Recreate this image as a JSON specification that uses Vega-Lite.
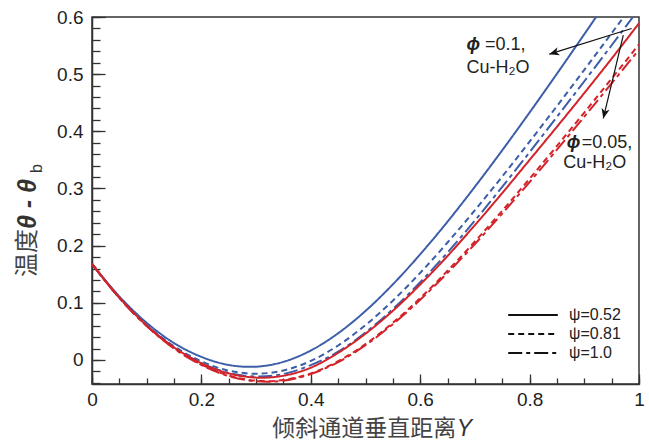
{
  "$schema": "https://vega.github.io/schema/vega-lite/v6.json",
  "width": 547,
  "height": 367,
  "autosize": {"type": "none"},
  "padding": {"left": 92, "top": 17, "right": 10, "bottom": 58},
  "background": "white",
  "config": {
    "view": {"stroke": "#333", "strokeWidth": 1.5},
    "axis": {"labelFont": "Liberation Sans", "labelFontSize": 19, "labelColor": "#222", "tickColor": "#333", "tickWidth": 1.3, "domainColor": "#333", "domainWidth": 1.5, "grid": false, "labelFlush": false, "labelOverlap": false, "format": "~g"}
  },
  "datasets": {
    "curves": [
      {"Y": 0, "T": 0.168, "phi": "0.1", "psi": "0.52"},
      {"Y": 0.05, "T": 0.1111, "phi": "0.1", "psi": "0.52"},
      {"Y": 0.1, "T": 0.065, "phi": "0.1", "psi": "0.52"},
      {"Y": 0.15, "T": 0.0296, "phi": "0.1", "psi": "0.52"},
      {"Y": 0.2, "T": 0.0055, "phi": "0.1", "psi": "0.52"},
      {"Y": 0.25, "T": -0.0087, "phi": "0.1", "psi": "0.52"},
      {"Y": 0.289, "T": -0.012, "phi": "0.1", "psi": "0.52"},
      {"Y": 0.35, "T": -0.0032, "phi": "0.1", "psi": "0.52"},
      {"Y": 0.4, "T": 0.0166, "phi": "0.1", "psi": "0.52"},
      {"Y": 0.45, "T": 0.0468, "phi": "0.1", "psi": "0.52"},
      {"Y": 0.5, "T": 0.0858, "phi": "0.1", "psi": "0.52"},
      {"Y": 0.55, "T": 0.1323, "phi": "0.1", "psi": "0.52"},
      {"Y": 0.6, "T": 0.1848, "phi": "0.1", "psi": "0.52"},
      {"Y": 0.65, "T": 0.242, "phi": "0.1", "psi": "0.52"},
      {"Y": 0.7, "T": 0.3031, "phi": "0.1", "psi": "0.52"},
      {"Y": 0.75, "T": 0.3669, "phi": "0.1", "psi": "0.52"},
      {"Y": 0.8, "T": 0.433, "phi": "0.1", "psi": "0.52"},
      {"Y": 0.85, "T": 0.5008, "phi": "0.1", "psi": "0.52"},
      {"Y": 0.9, "T": 0.5699, "phi": "0.1", "psi": "0.52"},
      {"Y": 0.95, "T": 0.64, "phi": "0.1", "psi": "0.52"},
      {"Y": 1.0, "T": 0.7109, "phi": "0.1", "psi": "0.52"},

      {"Y": 0, "T": 0.168, "phi": "0.1", "psi": "0.81"},
      {"Y": 0.05, "T": 0.1093, "phi": "0.1", "psi": "0.81"},
      {"Y": 0.1, "T": 0.0613, "phi": "0.1", "psi": "0.81"},
      {"Y": 0.15, "T": 0.024, "phi": "0.1", "psi": "0.81"},
      {"Y": 0.2, "T": -0.0024, "phi": "0.1", "psi": "0.81"},
      {"Y": 0.25, "T": -0.0187, "phi": "0.1", "psi": "0.81"},
      {"Y": 0.3, "T": -0.024, "phi": "0.1", "psi": "0.81"},
      {"Y": 0.35, "T": -0.0183, "phi": "0.1", "psi": "0.81"},
      {"Y": 0.4, "T": -0.0016, "phi": "0.1", "psi": "0.81"},
      {"Y": 0.45, "T": 0.0254, "phi": "0.1", "psi": "0.81"},
      {"Y": 0.5, "T": 0.061, "phi": "0.1", "psi": "0.81"},
      {"Y": 0.55, "T": 0.1038, "phi": "0.1", "psi": "0.81"},
      {"Y": 0.6, "T": 0.1524, "phi": "0.1", "psi": "0.81"},
      {"Y": 0.65, "T": 0.2055, "phi": "0.1", "psi": "0.81"},
      {"Y": 0.7, "T": 0.262, "phi": "0.1", "psi": "0.81"},
      {"Y": 0.75, "T": 0.321, "phi": "0.1", "psi": "0.81"},
      {"Y": 0.8, "T": 0.3819, "phi": "0.1", "psi": "0.81"},
      {"Y": 0.85, "T": 0.4442, "phi": "0.1", "psi": "0.81"},
      {"Y": 0.9, "T": 0.5076, "phi": "0.1", "psi": "0.81"},
      {"Y": 0.95, "T": 0.5717, "phi": "0.1", "psi": "0.81"},
      {"Y": 1.0, "T": 0.6363, "phi": "0.1", "psi": "0.81"},

      {"Y": 0, "T": 0.168, "phi": "0.1", "psi": "1.0"},
      {"Y": 0.05, "T": 0.1087, "phi": "0.1", "psi": "1.0"},
      {"Y": 0.1, "T": 0.06, "phi": "0.1", "psi": "1.0"},
      {"Y": 0.15, "T": 0.0219, "phi": "0.1", "psi": "1.0"},
      {"Y": 0.2, "T": -0.0054, "phi": "0.1", "psi": "1.0"},
      {"Y": 0.25, "T": -0.0226, "phi": "0.1", "psi": "1.0"},
      {"Y": 0.305, "T": -0.029, "phi": "0.1", "psi": "1.0"},
      {"Y": 0.35, "T": -0.0245, "phi": "0.1", "psi": "1.0"},
      {"Y": 0.4, "T": -0.009, "phi": "0.1", "psi": "1.0"},
      {"Y": 0.45, "T": 0.0145, "phi": "0.1", "psi": "1.0"},
      {"Y": 0.5, "T": 0.048, "phi": "0.1", "psi": "1.0"},
      {"Y": 0.55, "T": 0.089, "phi": "0.1", "psi": "1.0"},
      {"Y": 0.6, "T": 0.136, "phi": "0.1", "psi": "1.0"},
      {"Y": 0.65, "T": 0.188, "phi": "0.1", "psi": "1.0"},
      {"Y": 0.7, "T": 0.244, "phi": "0.1", "psi": "1.0"},
      {"Y": 0.75, "T": 0.303, "phi": "0.1", "psi": "1.0"},
      {"Y": 0.8, "T": 0.3635, "phi": "0.1", "psi": "1.0"},
      {"Y": 0.85, "T": 0.4254, "phi": "0.1", "psi": "1.0"},
      {"Y": 0.9, "T": 0.4876, "phi": "0.1", "psi": "1.0"},
      {"Y": 0.95, "T": 0.5506, "phi": "0.1", "psi": "1.0"},
      {"Y": 1.0, "T": 0.6142, "phi": "0.1", "psi": "1.0"},

      {"Y": 0, "T": 0.168, "phi": "0.05", "psi": "0.52"},
      {"Y": 0.05, "T": 0.109, "phi": "0.05", "psi": "0.52"},
      {"Y": 0.1, "T": 0.0603, "phi": "0.05", "psi": "0.52"},
      {"Y": 0.15, "T": 0.022, "phi": "0.05", "psi": "0.52"},
      {"Y": 0.2, "T": -0.0056, "phi": "0.05", "psi": "0.52"},
      {"Y": 0.25, "T": -0.0235, "phi": "0.05", "psi": "0.52"},
      {"Y": 0.31, "T": -0.031, "phi": "0.05", "psi": "0.52"},
      {"Y": 0.35, "T": -0.0275, "phi": "0.05", "psi": "0.52"},
      {"Y": 0.4, "T": -0.0135, "phi": "0.05", "psi": "0.52"},
      {"Y": 0.45, "T": 0.0125, "phi": "0.05", "psi": "0.52"},
      {"Y": 0.5, "T": 0.046, "phi": "0.05", "psi": "0.52"},
      {"Y": 0.55, "T": 0.086, "phi": "0.05", "psi": "0.52"},
      {"Y": 0.6, "T": 0.132, "phi": "0.05", "psi": "0.52"},
      {"Y": 0.65, "T": 0.182, "phi": "0.05", "psi": "0.52"},
      {"Y": 0.7, "T": 0.236, "phi": "0.05", "psi": "0.52"},
      {"Y": 0.75, "T": 0.292, "phi": "0.05", "psi": "0.52"},
      {"Y": 0.8, "T": 0.35, "phi": "0.05", "psi": "0.52"},
      {"Y": 0.85, "T": 0.408, "phi": "0.05", "psi": "0.52"},
      {"Y": 0.9, "T": 0.467, "phi": "0.05", "psi": "0.52"},
      {"Y": 0.95, "T": 0.5272, "phi": "0.05", "psi": "0.52"},
      {"Y": 1.0, "T": 0.589, "phi": "0.05", "psi": "0.52"},

      {"Y": 0, "T": 0.168, "phi": "0.05", "psi": "0.81"},
      {"Y": 0.05, "T": 0.109, "phi": "0.05", "psi": "0.81"},
      {"Y": 0.1, "T": 0.0599, "phi": "0.05", "psi": "0.81"},
      {"Y": 0.15, "T": 0.0209, "phi": "0.05", "psi": "0.81"},
      {"Y": 0.2, "T": -0.0079, "phi": "0.05", "psi": "0.81"},
      {"Y": 0.25, "T": -0.0272, "phi": "0.05", "psi": "0.81"},
      {"Y": 0.32, "T": -0.037, "phi": "0.05", "psi": "0.81"},
      {"Y": 0.35, "T": -0.0351, "phi": "0.05", "psi": "0.81"},
      {"Y": 0.4, "T": -0.0236, "phi": "0.05", "psi": "0.81"},
      {"Y": 0.45, "T": -0.0022, "phi": "0.05", "psi": "0.81"},
      {"Y": 0.5, "T": 0.0278, "phi": "0.05", "psi": "0.81"},
      {"Y": 0.55, "T": 0.0651, "phi": "0.05", "psi": "0.81"},
      {"Y": 0.6, "T": 0.1082, "phi": "0.05", "psi": "0.81"},
      {"Y": 0.65, "T": 0.156, "phi": "0.05", "psi": "0.81"},
      {"Y": 0.7, "T": 0.2072, "phi": "0.05", "psi": "0.81"},
      {"Y": 0.75, "T": 0.2611, "phi": "0.05", "psi": "0.81"},
      {"Y": 0.8, "T": 0.3171, "phi": "0.05", "psi": "0.81"},
      {"Y": 0.85, "T": 0.3745, "phi": "0.05", "psi": "0.81"},
      {"Y": 0.9, "T": 0.4329, "phi": "0.05", "psi": "0.81"},
      {"Y": 0.95, "T": 0.4922, "phi": "0.05", "psi": "0.81"},
      {"Y": 1.0, "T": 0.552, "phi": "0.05", "psi": "0.81"},

      {"Y": 0, "T": 0.168, "phi": "0.05", "psi": "1.0"},
      {"Y": 0.05, "T": 0.1087, "phi": "0.05", "psi": "1.0"},
      {"Y": 0.1, "T": 0.0594, "phi": "0.05", "psi": "1.0"},
      {"Y": 0.15, "T": 0.0201, "phi": "0.05", "psi": "1.0"},
      {"Y": 0.2, "T": -0.0087, "phi": "0.05", "psi": "1.0"},
      {"Y": 0.25, "T": -0.0281, "phi": "0.05", "psi": "1.0"},
      {"Y": 0.32, "T": -0.038, "phi": "0.05", "psi": "1.0"},
      {"Y": 0.35, "T": -0.0362, "phi": "0.05", "psi": "1.0"},
      {"Y": 0.4, "T": -0.0247, "phi": "0.05", "psi": "1.0"},
      {"Y": 0.45, "T": -0.0037, "phi": "0.05", "psi": "1.0"},
      {"Y": 0.5, "T": 0.0259, "phi": "0.05", "psi": "1.0"},
      {"Y": 0.55, "T": 0.0627, "phi": "0.05", "psi": "1.0"},
      {"Y": 0.6, "T": 0.1053, "phi": "0.05", "psi": "1.0"},
      {"Y": 0.65, "T": 0.1524, "phi": "0.05", "psi": "1.0"},
      {"Y": 0.7, "T": 0.2029, "phi": "0.05", "psi": "1.0"},
      {"Y": 0.75, "T": 0.2561, "phi": "0.05", "psi": "1.0"},
      {"Y": 0.8, "T": 0.3113, "phi": "0.05", "psi": "1.0"},
      {"Y": 0.85, "T": 0.3679, "phi": "0.05", "psi": "1.0"},
      {"Y": 0.9, "T": 0.4256, "phi": "0.05", "psi": "1.0"},
      {"Y": 0.95, "T": 0.484, "phi": "0.05", "psi": "1.0"},
      {"Y": 1.0, "T": 0.543, "phi": "0.05", "psi": "1.0"}
    ],
    "labels": [
      {"role": "phi", "text": "ϕ", "Y": 0.6848, "T": 0.5507},
      {"role": "note", "text": "=0.1,", "Y": 0.7185, "T": 0.5507},
      {"role": "note", "text": "Cu-H₂O", "Y": 0.6848, "T": 0.51},
      {"role": "phi", "text": "ϕ", "Y": 0.8678, "T": 0.3788},
      {"role": "note", "text": "=0.05,", "Y": 0.8953, "T": 0.3788},
      {"role": "note", "text": "Cu-H₂O", "Y": 0.8616, "T": 0.3439},
      {"role": "ytitle", "text": "温度", "Y": -0.117, "T": 0.1451},
      {"role": "ytheta", "text": "θ - θ", "Y": -0.117, "T": 0.229},
      {"role": "ysub", "text": "b", "Y": -0.1, "T": 0.327},
      {"role": "xtitle", "text": "倾斜通道垂直距离", "Y": 0.666, "T": -0.1215},
      {"role": "xvar", "text": "Y", "Y": 0.667, "T": -0.1215}
    ],
    "arrows": [
      {"arrow": "a", "step": 0, "Y": 0.9865, "T": 0.5799},
      {"arrow": "a", "step": 1, "Y": 0.836, "T": 0.535},
      {"arrow": "b", "step": 0, "Y": 0.9713, "T": 0.5682},
      {"arrow": "b", "step": 1, "Y": 0.9347, "T": 0.4226}
    ]
  },
  "resolve": {"axis": {"x": "independent", "y": "independent"}},
  "layer": [
    {
      "data": {"name": "curves"},
      "mark": {"type": "line", "clip": true, "strokeWidth": 2, "interpolate": "monotone"},
      "encoding": {
        "x": {"field": "Y", "type": "quantitative", "scale": {"domain": [0, 1], "nice": false, "zero": false},
              "axis": {"orient": "bottom", "values": [0,0.05,0.1,0.15,0.2,0.25,0.3,0.35,0.4,0.45,0.5,0.55,0.6,0.65,0.7,0.75,0.8,0.85,0.9,0.95,1], "labels": false, "title": null, "tickSize": -6, "domain": true}},
        "y": {"field": "T", "type": "quantitative", "scale": {"domain": [-0.042, 0.6], "nice": false, "zero": false},
              "axis": {"orient": "left", "values": [-0.04,-0.02,0,0.02,0.04,0.06,0.08,0.1,0.12,0.14,0.16,0.18,0.2,0.22,0.24,0.26,0.28,0.3,0.32,0.34,0.36,0.38,0.4,0.42,0.44,0.46,0.48,0.5,0.52,0.54,0.56,0.58,0.6], "labels": false, "title": null, "tickSize": -8, "domain": true}},
        "color": {"field": "phi", "type": "nominal", "scale": {"domain": ["0.1", "0.05"], "range": ["#3c5ea8", "#d2232a"]}, "legend": null},
        "strokeDash": {"field": "psi", "type": "nominal", "scale": {"domain": ["0.52", "0.81", "1.0"], "range": [[1, 0], [6, 4], [14, 4, 4, 4]]},
              "legend": {"orient": "none", "legendX": 432, "legendY": 289, "title": null, "padding": 0, "symbolType": "M-3.1,0L3.1,0", "symbolStrokeColor": "#111", "symbolStrokeWidth": 2, "symbolSize": 256, "labelFont": "Liberation Sans", "labelFontSize": 16, "labelColor": "#222", "labelOffset": 27, "rowPadding": 2, "labelExpr": "'ψ=' + datum.label"}}
      }
    },
    {
      "data": {"name": "arrows"},
      "mark": {"type": "line", "color": "#111", "strokeWidth": 1.2, "clip": false},
      "encoding": {
        "x": {"field": "Y", "type": "quantitative", "scale": {"domain": [0, 1], "nice": false, "zero": false}, "axis": null},
        "y": {"field": "T", "type": "quantitative", "scale": {"domain": [-0.042, 0.6], "nice": false, "zero": false}, "axis": null},
        "detail": {"field": "arrow"},
        "order": {"field": "step"}
      }
    },
    {
      "data": {"name": "arrows"},
      "transform": [{"filter": "datum.step == 1 && datum.arrow == 'a'"}],
      "mark": {"type": "point", "shape": "M0,0L0.75,1.8L0,1.3L-0.75,1.8Z", "angle": 253, "size": 121, "filled": true, "color": "#111", "opacity": 1, "clip": false},
      "encoding": {
        "x": {"field": "Y", "type": "quantitative", "scale": {"domain": [0, 1], "nice": false, "zero": false}, "axis": null},
        "y": {"field": "T", "type": "quantitative", "scale": {"domain": [-0.042, 0.6], "nice": false, "zero": false}, "axis": null}
      }
    },
    {
      "data": {"name": "arrows"},
      "transform": [{"filter": "datum.step == 1 && datum.arrow == 'b'"}],
      "mark": {"type": "point", "shape": "M0,0L0.75,1.8L0,1.3L-0.75,1.8Z", "angle": 193.5, "size": 121, "filled": true, "color": "#111", "opacity": 1, "clip": false},
      "encoding": {
        "x": {"field": "Y", "type": "quantitative", "scale": {"domain": [0, 1], "nice": false, "zero": false}, "axis": null},
        "y": {"field": "T", "type": "quantitative", "scale": {"domain": [-0.042, 0.6], "nice": false, "zero": false}, "axis": null}
      }
    },
    {
      "data": {"name": "labels"},
      "transform": [{"filter": "datum.role == 'note'"}],
      "mark": {"type": "text", "align": "left", "baseline": "middle", "font": "Liberation Sans", "fontSize": 18, "color": "#222", "clip": false},
      "encoding": {
        "x": {"field": "Y", "type": "quantitative", "scale": {"domain": [0, 1], "nice": false, "zero": false},
              "axis": {"orient": "bottom", "values": [0, 0.2, 0.4, 0.6, 0.8, 1], "title": null, "tickSize": -10, "labelPadding": 16, "domain": false}},
        "y": {"field": "T", "type": "quantitative", "scale": {"domain": [-0.042, 0.6], "nice": false, "zero": false},
              "axis": {"orient": "left", "values": [0, 0.1, 0.2, 0.3, 0.4, 0.5, 0.6], "title": null, "tickSize": -13, "labelPadding": 22, "domain": false}},
        "text": {"field": "text"}
      }
    },
    {
      "data": {"name": "labels"},
      "transform": [{"filter": "datum.role == 'phi'"}],
      "mark": {"type": "text", "align": "left", "baseline": "middle", "font": "Liberation Sans", "fontSize": 18, "fontStyle": "italic", "fontWeight": "bold", "color": "#222", "clip": false},
      "encoding": {
        "x": {"field": "Y", "type": "quantitative", "scale": {"domain": [0, 1], "nice": false, "zero": false}, "axis": null},
        "y": {"field": "T", "type": "quantitative", "scale": {"domain": [-0.042, 0.6], "nice": false, "zero": false}, "axis": null},
        "text": {"field": "text"}
      }
    },
    {
      "data": {"name": "labels"},
      "transform": [{"filter": "datum.role == 'ytitle'"}],
      "mark": {"type": "text", "align": "left", "baseline": "middle", "angle": 270, "font": "Noto Sans CJK SC", "fontSize": 24, "color": "#444", "clip": false},
      "encoding": {
        "x": {"field": "Y", "type": "quantitative", "scale": {"domain": [0, 1], "nice": false, "zero": false}, "axis": null},
        "y": {"field": "T", "type": "quantitative", "scale": {"domain": [-0.042, 0.6], "nice": false, "zero": false}, "axis": null},
        "text": {"field": "text"}
      }
    },
    {
      "data": {"name": "labels"},
      "transform": [{"filter": "datum.role == 'ytheta'"}],
      "mark": {"type": "text", "align": "left", "baseline": "middle", "angle": 270, "font": "Liberation Sans", "fontSize": 25, "fontStyle": "italic", "fontWeight": "bold", "color": "#333", "clip": false},
      "encoding": {
        "x": {"field": "Y", "type": "quantitative", "scale": {"domain": [0, 1], "nice": false, "zero": false}, "axis": null},
        "y": {"field": "T", "type": "quantitative", "scale": {"domain": [-0.042, 0.6], "nice": false, "zero": false}, "axis": null},
        "text": {"field": "text"}
      }
    },
    {
      "data": {"name": "labels"},
      "transform": [{"filter": "datum.role == 'ysub'"}],
      "mark": {"type": "text", "align": "left", "baseline": "middle", "angle": 270, "font": "Liberation Sans", "fontSize": 16, "color": "#333", "clip": false},
      "encoding": {
        "x": {"field": "Y", "type": "quantitative", "scale": {"domain": [0, 1], "nice": false, "zero": false}, "axis": null},
        "y": {"field": "T", "type": "quantitative", "scale": {"domain": [-0.042, 0.6], "nice": false, "zero": false}, "axis": null},
        "text": {"field": "text"}
      }
    },
    {
      "data": {"name": "labels"},
      "transform": [{"filter": "datum.role == 'xtitle'"}],
      "mark": {"type": "text", "align": "right", "baseline": "middle", "font": "Noto Sans CJK SC", "fontSize": 23, "color": "#444", "clip": false},
      "encoding": {
        "x": {"field": "Y", "type": "quantitative", "scale": {"domain": [0, 1], "nice": false, "zero": false}, "axis": null},
        "y": {"field": "T", "type": "quantitative", "scale": {"domain": [-0.042, 0.6], "nice": false, "zero": false}, "axis": null},
        "text": {"field": "text"}
      }
    },
    {
      "data": {"name": "labels"},
      "transform": [{"filter": "datum.role == 'xvar'"}],
      "mark": {"type": "text", "align": "left", "baseline": "middle", "font": "Liberation Sans", "fontSize": 23, "fontStyle": "italic", "color": "#333", "clip": false},
      "encoding": {
        "x": {"field": "Y", "type": "quantitative", "scale": {"domain": [0, 1], "nice": false, "zero": false}, "axis": null},
        "y": {"field": "T", "type": "quantitative", "scale": {"domain": [-0.042, 0.6], "nice": false, "zero": false}, "axis": null},
        "text": {"field": "text"}
      }
    }
  ]
}
